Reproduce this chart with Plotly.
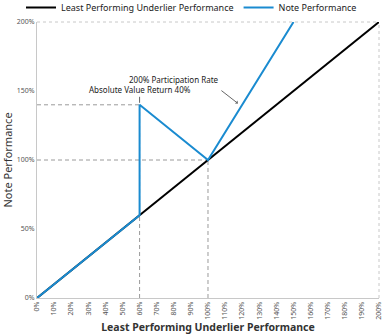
import plotly.graph_objects as go

# Data
underlier_x = [0, 200]
underlier_y = [0, 200]
note_x = [0, 60, 60, 100, 150]
note_y = [0, 60, 140, 100, 200]
x_ticks = list(range(0, 201, 10))
y_ticks = list(range(0, 201, 50))
ref_lines = [([0, 60], [140, 140]), ([0, 100], [100, 100]), ([60, 60], [0, 140]), ([100, 100], [0, 100])]

BLUE = "#1a8bd0"
FONT = "Noto Sans"

fig = go.Figure()
for xs, ys in ref_lines:
    fig.add_trace(go.Scatter(x=xs, y=ys, mode="lines", showlegend=False, hoverinfo="skip",
                             line=dict(color="#9a9a9a", width=1, dash="4px,3px")))
fig.add_trace(go.Scatter(x=underlier_x, y=underlier_y, mode="lines", name="Least Performing Underlier Performance",
                         line=dict(color="black", width=2)))
fig.add_trace(go.Scatter(x=note_x, y=note_y, mode="lines", name="Note Performance",
                         line=dict(color=BLUE, width=2)))

fig.update_layout(
    width=383, height=336,
    margin=dict(l=37, r=4, t=22, b=38, autoexpand=False),
    paper_bgcolor="white", plot_bgcolor="white",
    font=dict(family=FONT, color="#333"),
    showlegend=True,
    legend=dict(orientation="h", xref="container", x=0.5, xanchor="center",
                yref="paper", y=1.0, yanchor="bottom",
                font=dict(size=9, color="#222"), itemwidth=30, tracegroupgap=0,
                bgcolor="rgba(0,0,0,0)"),
    xaxis=dict(range=[0, 200.01], tickvals=x_ticks, ticktext=[f"{v}%" for v in x_ticks],
               tickangle=-90, tickfont=dict(size=7, color="#555"), showgrid=False, zeroline=False,
               showline=True, linecolor="#c8c8c8", linewidth=1, ticks="", fixedrange=True,
               ticklabeloverflow="allow", automargin=False,
               title=dict(text="<b>Least Performing Underlier Performance</b>", font=dict(size=10.5, color="#333"), standoff=3)),
    yaxis=dict(range=[0, 200], tickvals=y_ticks, ticktext=[f"{v}%" for v in y_ticks],
               tickfont=dict(size=7, color="#555"), showgrid=False, zeroline=False,
               showline=True, linecolor="#c8c8c8", linewidth=1, ticks="", automargin=False,
               title=dict(text="Note Performance", font=dict(size=11, color="#333"), standoff=6)),
    shapes=[
        dict(type="line", xref="paper", yref="paper", x0=0, x1=1, y0=1, y1=1, line=dict(color="#c8c8c8", width=1, dash="dot")),
        dict(type="line", xref="paper", yref="paper", x0=1, x1=1, y0=0, y1=1, line=dict(color="#c8c8c8", width=1, dash="dot")),
    ],
    annotations=[
        dict(x=117.5, y=141, ax=-18, ay=-14, text="", showarrow=True, arrowhead=1, arrowsize=0.7,
             arrowwidth=1, arrowcolor="#666"),
        dict(x=80, y=158, xref="x", yref="y", text="200% Participation Rate", showarrow=False,
             font=dict(size=8, color="#222", family=FONT)),
        dict(x=60, y=140, ax=0, ay=-15, text="Absolute Value Return 40%", showarrow=True, arrowhead=0,
             arrowwidth=1, arrowcolor="#666", standoff=2, font=dict(size=8, color="#222", family=FONT)),
    ],
)

fig.write_html("out.html")
